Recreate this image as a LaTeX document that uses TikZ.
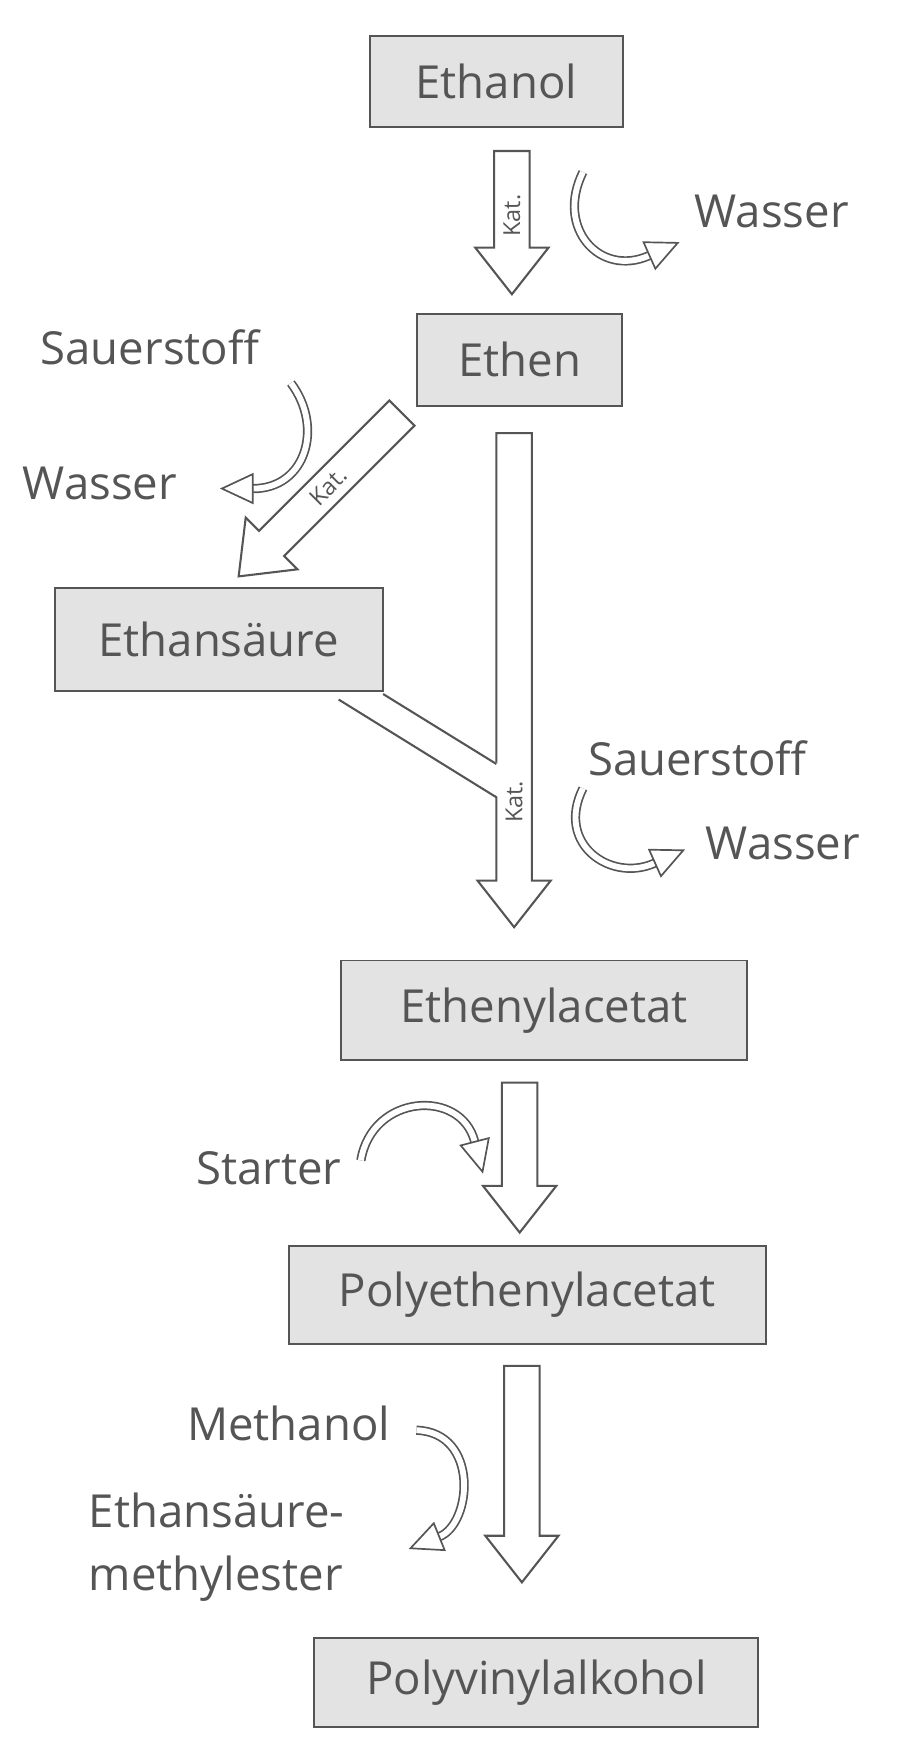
\documentclass[tikz,border=0pt]{standalone}
\usepackage{fontspec}
\setmainfont{Open Sans}
\usetikzlibrary{arrows.meta}
\definecolor{ink}{HTML}{555555}
\definecolor{boxfill}{HTML}{E3E3E3}
\def\u{0.03cm}
\tikzset{
  stoff/.style={draw=ink, line width=1.5pt, fill=boxfill, text=ink,
    font=\fontsize{35}{38}\selectfont},
  lbl/.style={text=ink, font=\fontsize{35}{38}\selectfont},
  kat/.style={text=ink, font=\fontsize{18}{20}\selectfont, inner sep=0pt},
  fat/.style={draw=ink, line width=1.6pt, fill=white, line join=miter},
  curv/.style={draw=ink, line width=1.3pt, double=white, double distance=4.5pt,
    -{Triangle[open, length=26pt, width=24pt, line width=1.3pt]}}
}
% Blockpfeil: Start, Winkel, Laenge, Beschriftung
\newcommand{\fatarr}[4]{%
  \begin{scope}[shift={#1}, rotate=#2]
    \draw[fat] (0,-16) -- (#3-42,-16) -- (#3-42,-33) -- (#3,0)
      -- (#3-42,33) -- (#3-42,16) -- (0,16) -- cycle;
    \pgfmathsetmacro\katrot{#2+180}
    \node[kat, rotate=\katrot] at (0.45*#3,0) {#4};
  \end{scope}}
\begin{document}
\begin{tikzpicture}[x=\u, y=\u]
  \useasboundingbox (0,0) rectangle (810,-1576);

  % Stoffe
  \node[stoff, minimum width=228*\u, minimum height=82*\u] (ethanol) at (447,-73) {Ethanol};
  \node[stoff, minimum width=185*\u, minimum height=83*\u] (ethen) at (468,-324) {Ethen};
  \node[stoff, minimum width=295*\u, minimum height=93*\u] (saeure) at (197,-576) {Ethansäure};
  \node[stoff, minimum width=365*\u, minimum height=90*\u] (acetat) at (490,-910) {Ethenylacetat};
  \node[stoff, minimum width=430*\u, minimum height=88*\u] (polyacetat) at (475,-1166) {Polyethenylacetat};
  \node[stoff, minimum width=400*\u, minimum height=80*\u] (pva) at (483,-1515) {Polyvinylalkohol};

  % Beschriftungen
  \node[lbl] (wasserA) at (695,-190) {Wasser};
  \node[lbl] (sauerA) at (135,-313) {Sauerstoff};
  \node[lbl] (wasserB) at (90,-435) {Wasser};
  \node[lbl] (sauerB) at (628,-683) {Sauerstoff};
  \node[lbl] (wasserC) at (705,-760) {Wasser};
  \node[lbl] (starter) at (242,-1052) {Starter};
  \node[lbl] (methanol) at (260,-1282) {Methanol};
  \node[lbl, anchor=west] (ester) at (76,-1360) {Ethansäure-};
  \node[lbl, anchor=west] (esterB) at (76,-1422) {methylester};

  % Blockpfeile
  \fatarr{(461,-136)}{-90}{129}{Kat.}
  \fatarr{(362,-372)}{225}{208}{Kat.}
  \fatarr{(463,-390)}{-90}{445}{}
  \node[kat, rotate=90] (katC) at (463,-722) {Kat.};
  \fill[white] (305,-630) -- (345,-625) -- (449,-688) -- (449,-718) -- cycle;
  \draw[ink, line width=1.6pt] (345,-625) -- (447,-688);
  \draw[ink, line width=1.6pt] (305,-630) -- (447,-718);
  \fatarr{(468,-975)}{-90}{135}{}
  \fatarr{(470,-1230)}{-90}{195}{}

  % Nebenstoffe
  \draw[curv] (525,-155) .. controls (500,-205) and (540,-250) .. (612,-218);
  \draw[curv] (262,-345) .. controls (292,-385) and (275,-440) .. (198,-440);
  \draw[curv] (525,-710) .. controls (500,-760) and (550,-795) .. (617,-765);
  \draw[curv] (325,-1045) .. controls (335,-985) and (415,-980) .. (435,-1057);
  \draw[curv] (375,-1288) .. controls (432,-1290) and (425,-1372) .. (368,-1395);
\end{tikzpicture}
\end{document}
